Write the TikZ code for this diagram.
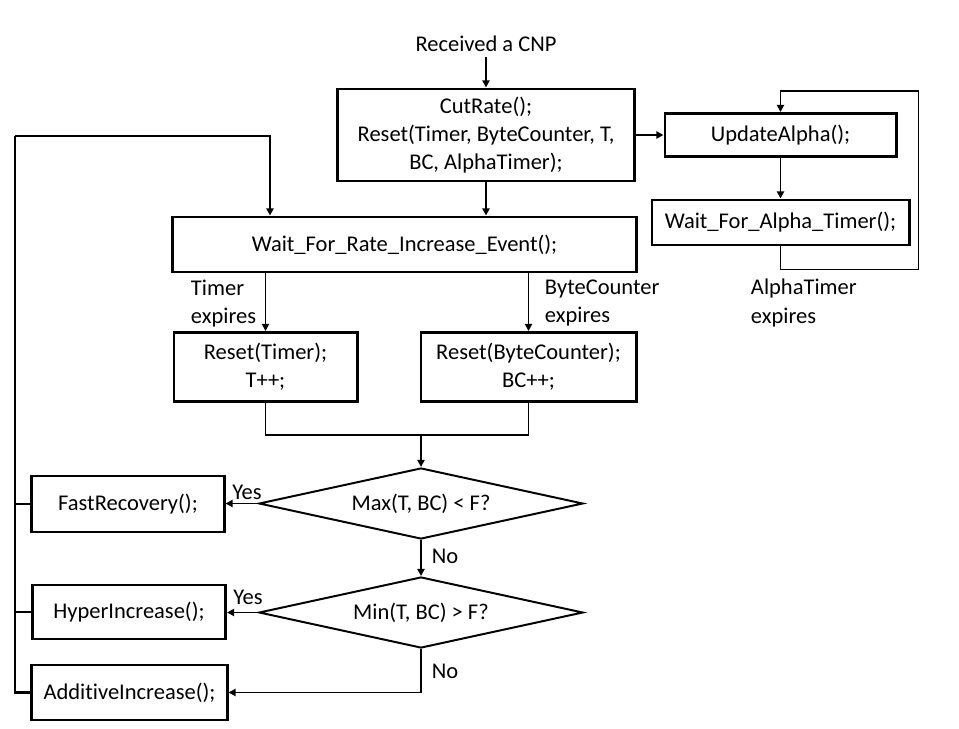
\documentclass[tikz,border=0pt]{standalone}
\usepackage{fontspec}
\setmainfont{Carlito}[Ligatures=NoCommon]
\usetikzlibrary{arrows.meta, calc, positioning, shapes.geometric}

\begin{document}
\begin{tikzpicture}[x=0.025cm, y=-0.025cm,
    every node/.style={font=\fontsize{16}{20}\selectfont},
    block/.style={draw, line width=2.1pt, inner sep=0pt, align=center},
    decision/.style={draw, diamond, line width=1.4pt, inner sep=0pt, aspect=4.56, minimum width=8.1cm, minimum height=1.775cm},
    link/.style={line width=1.4pt},
    flow/.style={link, -{Triangle[length=5pt,width=5pt]}},
    bus/.style={line width=2.1pt}]
    \useasboundingbox (0,0) rectangle (959,729);

    \node (cnp) at (486,44) {Received a CNP};
    \node[block, minimum width=7.4cm, minimum height=2.3cm] (cut) at (486,135) {CutRate();\\Reset(Timer, ByteCounter, T,\\BC, AlphaTimer);};
    \node[block, minimum width=5.775cm, minimum height=1.075cm] (upd) at (780.5,135) {UpdateAlpha();};
    \node[block, minimum width=6.425cm, minimum height=1.125cm] (wfat) at (780.5,222.5) {Wait\_For\_Alpha\_Timer();};
    \node[block, minimum width=11.575cm, minimum height=1.375cm] (wfr) at (404.5,244.5) {Wait\_For\_Rate\_Increase\_Event();};
    \node[block, minimum width=4.575cm, minimum height=1.725cm] (rt) at (265.5,367) {Reset(Timer);\\T++;};
    \node[block, minimum width=5.375cm, minimum height=1.725cm] (rbc) at (528.5,367) {Reset(ByteCounter);\\BC++;};
    \node[decision] (d1) at (421,503.5) {Max(T, BC) < F?};
    \node[decision] (d2) at (421,612.5) {Min(T, BC) > F?};
    \node[block, minimum width=4.8cm, minimum height=1.4cm] (fr) at (128,504) {FastRecovery();};
    \node[block, minimum width=4.825cm, minimum height=1.35cm] (hi) at (129,612) {HyperIncrease();};
    \node[block, minimum width=4.875cm, minimum height=1.375cm] (ai) at (129.5,692.5) {AdditiveIncrease();};

    % labels
    \node[anchor=west, align=left] (ltimer) at (186,304) {Timer\\expires};
    \node[anchor=west, align=left] (lbc) at (540,303) {ByteCounter\\expires};
    \node[anchor=west, align=left] (lalpha) at (746,303) {AlphaTimer\\expires};
    \node (yes1) at (247,492) {Yes};
    \node (no1) at (445,556) {No};
    \node (yes2) at (248,597) {Yes};
    \node (no2) at (445,671) {No};

    \coordinate (loopL) at (15,136);
    \coordinate (loopR) at (270,136);
    \coordinate (merge) at (421,435);

    \draw[flow] (cnp) -- (cut);
    \draw[flow] (cut) -- (upd);
    \draw[flow] (upd) -- (wfat);
    \draw[flow] (wfat.south) -- ++(0,23) -| ++(138,-178) -| (upd.north);
    \draw[flow] (cut.south) -- (cut.south |- wfr.north);
    \draw[flow] (rt.north |- wfr.south) -- (rt.north);
    \draw[flow] (rbc.north |- wfr.south) -- (rbc.north);
    \draw[link] (rt.south) |- (merge) -| (rbc.south);
    \draw[flow] (merge) -- (d1.north);
    \draw[flow] (d1.west) -- (d1.west -| fr.east);
    \draw[flow] (d1.south) -- (d2.north);
    \draw[flow] (d2.west) -- (d2.west -| hi.east);
    \draw[flow] (d2.south) |- (ai.east);

    % return path
    \draw[bus] (ai.west) -| (loopL);
    \draw[bus] (fr.west) -- (fr.west -| loopL);
    \draw[bus] (hi.west) -- (hi.west -| loopL);
    \draw[flow] (loopL) -- (loopR) -- (loopR |- wfr.north);
\end{tikzpicture}
\end{document}
